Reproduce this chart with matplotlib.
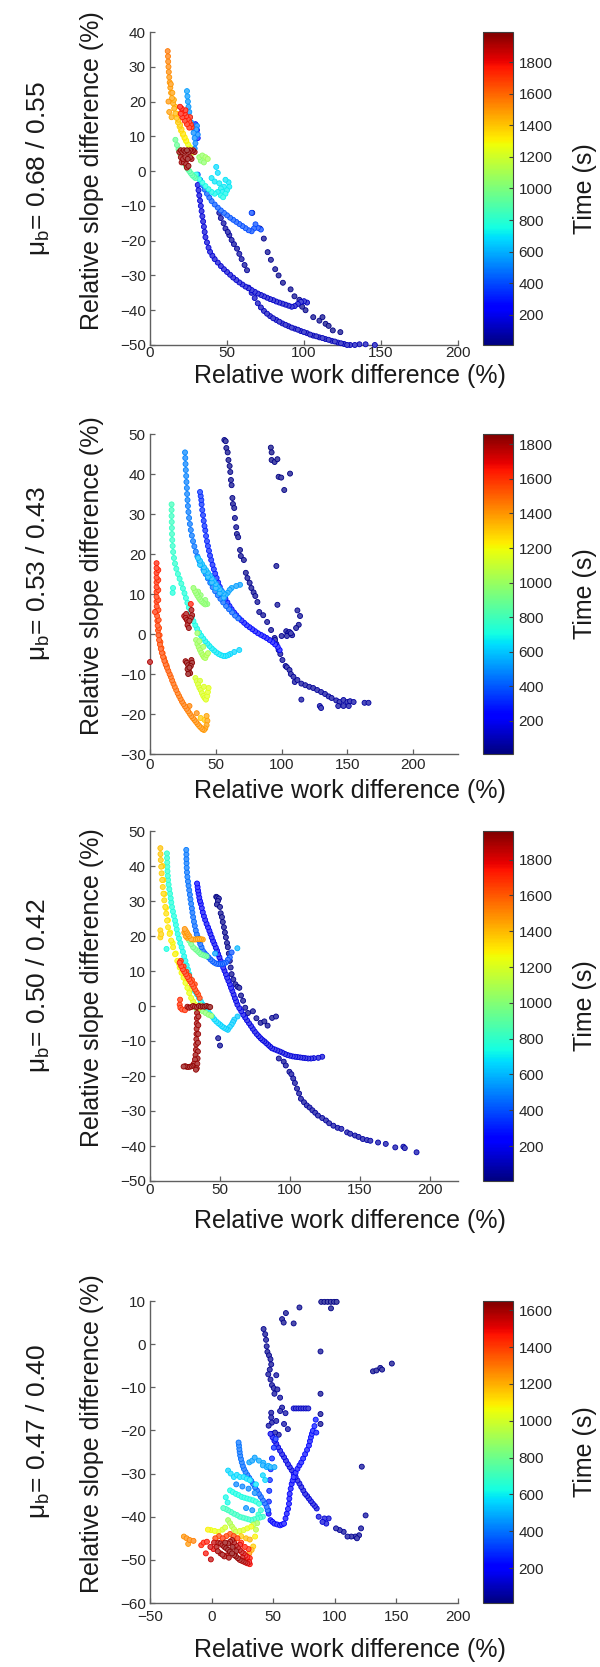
import matplotlib
matplotlib.use('Agg')
import matplotlib.pyplot as plt
import numpy as np
from matplotlib import colors as mcolors
from matplotlib.cm import ScalarMappable

plt.rcParams['font.family'] = ['Liberation Sans', 'DejaVu Sans']
plt.rcParams['mathtext.fontset'] = 'custom'
plt.rcParams['mathtext.rm'] = 'Liberation Sans'
plt.rcParams['mathtext.it'] = 'Liberation Sans:italic'

# ---------------- labels ----------------
MU_LABELS = ['μ$_\\mathrm{b}$= 0.68 / 0.55', 'μ$_\\mathrm{b}$= 0.53 / 0.43',
             'μ$_\\mathrm{b}$= 0.50 / 0.42', 'μ$_\\mathrm{b}$= 0.47 / 0.40']
XLABEL = 'Relative work difference (%)'
YLABEL = 'Relative slope difference (%)'
CLABEL = 'Time (s)'

# ---------------- panel 1 data ----------------
P1_X = [
    66.4, 71.4, 73.9, 76.4, 78.5, 81.3, 83.5, 86.3, 91.3, 93.8, 98.8, 101, 106, 110, 114, 118.7, 123.6, 112, 116, 97,
    45, 46, 47.8, 49, 50.5, 51.5, 53, 54.5, 56.5, 58, 59.5, 61.4, 63,
    64, 66, 68, 70, 72, 74, 76, 78, 80, 82, 84, 86, 88, 90, 92, 94, 96, 98, 100, 102, 104, 106, 108, 110, 112, 114,
    116, 118, 120, 122, 124, 126, 128, 130, 133, 136, 140, 146,
    31, 31.5, 32, 32.5, 33, 33.5, 34, 34.5, 35, 35.5, 36, 37, 38, 39, 40.5, 42, 44, 46, 48, 50, 52, 54, 56, 58, 60,
    62, 64, 66, 68, 70, 72, 74, 76, 78, 80, 82, 84, 86, 88, 90, 92, 94, 96, 98, 100, 102,
    31, 32.5, 34, 35.5, 37, 38.5, 40, 42, 44, 46, 48, 50, 52, 54, 56, 58, 60, 62, 64, 66, 67.5, 68.5, 70, 72, 66,
    24, 24.3, 24.6, 25, 25.5, 26, 26.7, 27.5, 28.3, 29, 29.5, 30, 30.5, 31, 29, 29.5, 30.5, 31,
    40, 42, 43, 44, 45, 46, 47, 48, 49, 50, 51, 51.5, 49, 44, 46, 47.5, 30, 32, 34, 36, 38, 40, 42,
    16.5, 17.5, 18.5, 19.5, 20.5, 21.5, 22.5, 23.5, 24.5, 25.5, 26.5, 27.5, 28.5, 29.5, 32, 34, 36, 37.5, 35, 33,
    11.5, 11.7, 11.8, 12, 12.2, 12.5, 12.8, 13.2, 13.7, 14.3, 15, 15.7, 16.5, 17.3, 18.2, 19.2, 20.2, 21.3, 22.4,
    23.5, 24.7, 25.9, 27, 28, 12, 12.5, 14,
    13.5, 14.5, 15.5, 16.5, 17.5, 18.5, 19.5, 20.5, 21.5, 22.5, 23.5,
    19.5, 20.5, 21.5, 22.5, 23.5, 24.5, 25.5, 26.5, 27, 21, 22.5, 24, 25.5, 23, 26, 20,
    19, 20, 21, 22, 23, 24, 25, 26, 27, 28, 29, 20, 21.5, 23, 24.5, 26, 22, 23.5, 25, 24, 27, 20.5,
]
P1_Y = [
    -12, -16.5, -19.4, -23.3, -25.5, -28.2, -30, -32.1, -34, -36, -39, -40, -42, -43, -43.9, -45.8, -46.3, -42, -44.5, -37,
    -12, -13.5, -15, -16.5, -17.5, -18.4, -19.8, -21, -22.3, -23.8, -25.3, -27, -28.5,
    -33.5, -35, -36.5, -38, -39.2, -40.2, -41, -41.7, -42.3, -42.8, -43.3, -43.8, -44.2, -44.6, -45, -45.3, -45.6, -46,
    -46.3, -46.6, -47, -47.3, -47.5, -47.8, -48, -48.3, -48.5, -48.8, -49, -49.3, -49.5, -49.7, -50, -50, -50, -49.8,
    -49.8, -50,
    -4, -5.5, -7, -8.5, -10, -11.5, -13, -14.5, -16, -17.5, -19, -20.5, -22, -23.2, -24.3, -25.3, -26.3, -27.3, -28.2,
    -29, -29.8, -30.6, -31.3, -32, -32.6, -33.2, -33.7, -34.2, -34.7, -35.2, -35.6, -36, -36.4, -36.8, -37.1, -37.5,
    -37.8, -38.1, -38.4, -38.7, -39, -38.8, -38.2, -37.6, -37.4, -37.8,
    -1, -2.5, -4, -5.3, -6.5, -7.6, -8.6, -9.6, -10.5, -11.3, -12, -12.7, -13.4, -14, -14.6, -15.2, -15.8, -16.4, -17,
    -17.3, -16.5, -15.3, -16.3, -16.8, -12,
    23, 21.5, 20, 18.5, 17, 15.5, 14, 12.5, 11, 9.5, 8, 12, 13, 10.5, 6.5, 13.5, 11.8, 9.5,
    -2, -3, 1.2, -0.5, -3.5, -5, -6, -4.5, -6.5, -5.5, -3.2, -4.5, -2.5, -6, -7, -7.5, -1, -2.3, -3.3, -4.3, -5.2, -6, -6.5,
    9, 7.5, 6.3, 5, 4, 3, 2.2, 1.4, 0.6, 0, -0.6, -1.2, -1.6, -2, 4, 4.5, 4, 3.5, 2.5, 3,
    34.5, 33, 31.5, 30, 28.5, 27, 25.5, 24, 22.5, 21, 19.5, 18, 16.6, 15.3, 14, 12.8, 11.6, 10.5, 9.5, 8.6, 7.7, 6.9,
    6.1, 5.3, 20, 17, 15.5,
    25, 22.5, 20.5, 18.5, 16.5, 14.8, 13.3, 12, 10.8, 9.8, 8.8,
    18.5, 18, 17.3, 16.6, 15.8, 15, 14.2, 13.4, 12.6, 15.5, 14.5, 13.5, 12.5, 17.5, 15.5, 16.5,
    5.5, 6, 5.5, 6, 5.6, 6, 5.5, 6, 5.7, 6, 5.5, 4, 3.5, 4, 3.5, 4, 2.5, 2, 1.5, 1, 3.5, 2.5,
]
P1_T = [
    40, 38, 37, 36, 35, 34, 33, 32, 31, 30, 29, 28, 27, 26, 25, 24, 23, 26, 25, 30,
    62, 61, 61, 60, 60, 59, 59, 58, 58, 57, 57, 56, 56,
    120, 119, 119, 118, 118, 117, 117, 116, 116, 115, 115, 114, 114, 113, 113, 112, 112, 111, 111, 110, 110, 109,
    109, 108, 108, 107, 107, 106, 106, 105, 105, 104, 104, 103, 103, 102, 102, 101,
    170, 169, 168, 167, 166, 165, 164, 163, 162, 161, 160, 159, 158, 157, 156, 155, 154, 153, 152, 151, 150, 149,
    148, 147, 146, 145, 144, 143, 142, 141, 140, 139, 138, 137, 136, 135, 134, 133, 132, 131, 130, 129, 128, 127,
    126, 125,
    440, 438, 436, 434, 432, 430, 428, 426, 424, 422, 420, 418, 416, 414, 412, 410, 408, 406, 404, 402, 400, 398,
    396, 394, 390,
    560, 556, 552, 548, 544, 540, 536, 532, 528, 524, 520, 516, 512, 508, 504, 300, 300, 300,
    700, 700, 680, 690, 710, 720, 720, 710, 730, 720, 700, 710, 700, 720, 730, 740, 760, 755, 750, 745, 740, 735, 730,
    950, 945, 940, 935, 930, 925, 920, 915, 910, 905, 900, 895, 890, 885, 1050, 1060, 1070, 1080, 1040, 1030,
    1560, 1550, 1540, 1530, 1520, 1510, 1500, 1490, 1480, 1470, 1460, 1450, 1430, 1410, 1390, 1370, 1350, 1330, 1310,
    1290, 1270, 1250, 1230, 1210, 1500, 1480, 1460,
    1500, 1480, 1460, 1440, 1420, 1400, 1380, 1360, 1340, 1320, 1300,
    1780, 1775, 1770, 1765, 1760, 1755, 1750, 1745, 1740, 1760, 1755, 1750, 1745, 1770, 1750, 1770,
    1950, 1955, 1960, 1965, 1970, 1975, 1970, 1965, 1960, 1955, 1950, 1945, 1950, 1955, 1960, 1950, 1945, 1950, 1955,
    1950, 1945, 1940,
]

# ---------------- panel 2 data ----------------
P2_X = [
    56.5, 57.5, 58, 59, 59.6, 60.5, 61, 61.5, 62, 62.6, 63, 64, 64.5, 65.5, 66, 67, 68.4, 69, 71.3, 72.8, 74, 75.7,
    77, 78.7, 80, 81.6, 83, 86, 89,
    92, 94.7, 96, 97.7, 99, 100.6, 103, 104, 106, 107, 109, 110, 112, 115, 118, 121, 124, 127, 130, 133, 135.7, 138,
    141.5, 144, 147, 150, 152, 154.7, 163, 166, 115, 129, 130, 143, 147, 151,
    91.8, 92.4, 92.4, 94.7, 96.8, 97.7, 99.7, 106.4, 102, 96, 96.8, 112, 114, 113, 111, 103.5, 105, 106, 107, 104,
    100, 95, 108,
    38, 38.5, 39, 39.2, 39.7, 40.3, 40.8, 41.4, 42, 42.6, 43.3, 44, 44.8, 45.6, 46.5, 47.5, 48.5, 49.5, 50.6, 51.8,
    53, 54.4, 55.8, 57.3, 58.8, 60.4, 62, 63.8, 65.6, 67.5, 69.5, 71.5, 73.5, 75.6, 77.7, 79.8, 82, 84.2, 86.4, 88.6,
    90.8, 93, 95, 97, 98.5,
    26.6, 26.8, 27, 27.2, 27.5, 27.7, 28, 28.2, 28.5, 28.8, 29.2, 29.7, 30.3, 31, 31.8, 32.7, 33.7, 34.8, 36, 37.5,
    39, 40.6, 42.3, 44, 45.8, 47.6, 49.5, 51.5, 53.5, 55.6, 57.8, 60, 62.3, 64.6, 67,
    36.5, 38, 39.5, 41, 42.5, 44, 45.5, 47, 48.5, 50, 51.5, 53, 54.5, 56, 57.5, 59, 60.5, 62, 65.5, 68.4,
    38, 41, 44, 47, 50, 53, 56,
    16.4, 16.4, 16.4, 16.5, 16.6, 16.7, 16.9, 17.2, 17.6, 18.2, 19, 20, 21.2, 22.5, 23.8, 25, 26.2, 27.3, 28.4, 29.5,
    30.6, 31.8, 33, 34.4, 35.8, 37.3, 38.8, 40.4, 42, 43.6, 45.2, 46.9, 48.6, 50.4, 52.2, 54, 55.8, 57.6, 59.4, 61,
    64, 67.8, 17.2, 17.5,
    33, 34, 35, 36, 37, 38, 39, 40, 41, 42, 43.5, 42, 38.5, 36.5,
    35, 36, 37, 38, 39, 40, 41, 42, 43, 44, 37.5, 40.5, 36,
    34.5, 35.5, 36.5, 37.5, 38.5, 39.5, 40.5, 41.5, 42.5, 43.5, 44, 44.5, 38, 41,
    5, 5, 5, 5, 5, 5, 5, 5, 5, 5.1, 5.2, 5.4, 5.6, 5.8, 6.1, 6.4, 6.9, 7.5, 8.2, 9, 9.9, 10.9, 11.9, 12.9, 13.9, 14.9,
    6.3, 6.3, 6.3, 6.3, 6.4, 6.6, 6.9, 7.3, 7.9, 8.7, 9.6, 10.6, 11.6, 12.6, 3.8,
    15.8, 16.8, 17.8, 18.8, 19.9, 21, 22.1, 23.2, 24.3, 25.4, 26.6, 27.8, 29, 30.2, 31.4, 32.6, 33.8, 35, 36.2, 37.4,
    38.6, 39.8, 41, 42, 43, 43.6, 43, 38.5, 41.5, 35.5, 30,
    26, 27, 28, 29, 30, 31, 32, 28.5, 29.5, 27.5, 31.5, 27, 28, 29, 30, 31, 32, 29.5, 30.5, 29, 28.5, 31.5, 0, 31,
]
P2_Y = [
    48.5, 48.2, 46.5, 45.4, 43.5, 42, 40.5, 38.5, 37.2, 34, 32.5, 31.5, 29, 26.7, 25, 24.2, 21, 19.5, 18.5, 15.3, 14,
    12.8, 11.5, 10.4, 9.5, 8, 5.5, 4.7, 3,
    1, -1, -2.5, -4, -5, -6.5, -8, -8.3, -9, -10, -10.7, -12, -11.5, -12.4, -12.8, -13.2, -13.5, -14, -14.5, -15,
    -15.6, -16, -16.6, -17, -16.5, -17, -16.8, -17, -17.2, -17.2, -16.4, -18, -18.5, -18, -18, -18,
    46.6, 45.4, 43.5, 43, 43.7, 39.3, 39.1, 40.1, 36, 17, 7.3, 5.9, 4.5, 2.3, 1.5, 0.7, 0.3, 0.5, 0.2, -0.5, -0.5,
    -1.5, -0.3,
    35.5, 34.5, 33.5, 32.4, 31, 29.7, 28.3, 27, 25.9, 24.5, 23.2, 22, 20.8, 19.6, 18.5, 17.3, 16.2, 15.1, 14, 12.9,
    11.8, 10.8, 9.8, 8.8, 7.9, 7, 6.2, 5.4, 4.7, 4, 3.4, 2.8, 2.2, 1.7, 1.2, 0.7, 0.2, -0.2, -0.6, -1, -1.5, -2,
    -2.6, -3.2, -4,
    45.4, 44, 42.5, 41, 39.5, 38, 36.5, 35, 33.5, 32, 30.5, 29, 27.5, 26, 24.6, 23.2, 21.9, 20.6, 19.4, 18.3, 17.2,
    16.1, 15, 13.9, 12.8, 11.7, 10.7, 9.7, 8.8, 7.9, 7, 6.2, 5.4, 4.6, 3.9,
    19, 18.3, 17.5, 16.7, 16, 15.3, 14.6, 13.9, 13.2, 12.5, 11.8, 11.2, 10.6, 10.1, 9.8, 10.3, 11, 11.5, 12, 12.3,
    17.3, 15.7, 14.3, 12.9, 11.5, 10.2, 9.1,
    32.4, 31, 29.5, 28, 26.5, 25, 23.5, 22, 20.5, 19, 17.6, 16.3, 15, 13.8, 12.6, 11.4, 10.2, 9, 7.8, 6.6, 5.4, 4.3,
    3.2, 2.2, 1.3, 0.4, -0.4, -1.1, -1.8, -2.4, -3, -3.6, -4.1, -4.6, -5, -5.3, -5.5, -5.5, -5.3, -5, -4.5, -4,
    10.3, 11.5,
    11.5, 10.8, 10.2, 9.6, 9.1, 8.6, 8.2, 7.9, 7.6, 7.4, 7.5, 8.5, 9.7, 10.6,
    -1.5, -2.5, -3.3, -4, -4.7, -5.3, -5.8, -6, -5.3, -4.8, -1.8, -3.2, 0.2,
    -11, -11.8, -12.6, -13.4, -14, -14.8, -15.5, -16, -16.4, -15.5, -14.5, -13.5, -11.7, -13.2,
    17.7, 16.5, 15.3, 14.1, 12.9, 11.7, 10.5, 9.3, 8.1, 6.9, 5.7, 4.5, 3.3, 2.1, 0.9, -0.3, -1.5, -2.6, -3.7, -4.7,
    -5.7, -6.7, -7.6, -8.4, -9.2, -10,
    16, 13.5, 11, 8.5, 6, 3.5, 1.5, -0.3, -2, -3.5, -4.8, -6, -7, -7.9, 5.5,
    -10.7, -11.6, -12.4, -13.2, -14, -14.8, -15.5, -16.2, -16.9, -17.5, -18.1, -18.7, -19.3, -19.9, -20.5, -21,
    -21.5, -22, -22.5, -23, -23.4, -23.8, -24, -23.6, -22.8, -21.7, -20.5, -21, -21.5, -19.8, -18,
    4.5, 4, 3.5, 3, 3.3, 4, 4.7, 2.2, 1.5, 5, 6, -6.8, -7.2, -7.8, -8.4, -8, -7.2, -9.3, -9.8, -10, -8.8, -6.5, -7, 7.5,
]
P2_T = [
    20, 20, 21, 21, 22, 22, 23, 23, 24, 24, 25, 25, 26, 26, 27, 27, 28, 28, 29, 29, 30, 30, 31, 31, 32, 32, 33, 33, 34,
    35, 36, 37, 38, 39, 40, 41, 42, 43, 44, 45, 46, 47, 48, 49, 50, 51, 52, 53, 54, 55, 56, 57, 58, 59, 60, 61, 62,
    63, 64, 50, 55, 55, 58, 59, 60,
    15, 15, 16, 16, 17, 17, 18, 18, 19, 25, 30, 30, 31, 32, 33, 40, 41, 42, 43, 42, 40, 38, 41,
    320, 318, 316, 314, 312, 310, 308, 306, 304, 302, 300, 298, 296, 294, 292, 290, 288, 286, 284, 282, 280, 278,
    276, 274, 272, 270, 268, 266, 264, 262, 260, 258, 256, 254, 252, 250, 248, 246, 244, 242, 240, 238, 236, 234, 232,
    480, 478, 476, 474, 472, 470, 468, 466, 464, 462, 460, 458, 456, 454, 452, 450, 448, 446, 444, 442, 440, 438,
    436, 434, 432, 430, 428, 426, 424, 422, 420, 418, 416, 414, 412,
    580, 577, 574, 571, 568, 565, 562, 559, 556, 553, 550, 547, 544, 541, 538, 535, 532, 529, 526, 523,
    575, 569, 563, 557, 551, 545, 539,
    790, 785, 780, 776, 772, 768, 764, 760, 756, 752, 748, 744, 740, 736, 732, 728, 724, 720, 716, 712, 708, 704,
    700, 696, 692, 688, 684, 680, 676, 672, 668, 664, 660, 656, 652, 648, 644, 640, 636, 632, 628, 624, 720, 720,
    980, 978, 976, 974, 972, 970, 968, 966, 964, 962, 960, 962, 970, 975,
    1000, 1005, 1010, 1015, 1020, 1025, 1030, 1035, 1040, 1045, 1010, 1020, 995,
    1130, 1133, 1136, 1139, 1142, 1145, 1148, 1151, 1154, 1157, 1160, 1163, 1135, 1145,
    1640, 1635, 1630, 1625, 1620, 1615, 1610, 1605, 1600, 1595, 1590, 1585, 1580, 1575, 1570, 1565, 1560, 1555,
    1550, 1545, 1540, 1535, 1530, 1525, 1520, 1515,
    1630, 1620, 1610, 1600, 1590, 1580, 1570, 1560, 1550, 1540, 1530, 1520, 1510, 1500, 1600,
    1505, 1500, 1495, 1490, 1485, 1480, 1475, 1470, 1465, 1460, 1455, 1450, 1445, 1440, 1435, 1430, 1425, 1420,
    1415, 1410, 1405, 1400, 1395, 1390, 1385, 1380, 1375, 1300, 1300, 1420, 1440,
    1800, 1805, 1810, 1815, 1820, 1815, 1810, 1815, 1820, 1800, 1790, 1830, 1835, 1840, 1845, 1840, 1835, 1840,
    1845, 1845, 1840, 1830, 1780, 1650,
]

# ---------------- panel 3 data ----------------
P3_X = [
    47.3, 48, 49.2, 48.5, 47.8, 50, 50.5, 51.4, 52, 52.8, 53.5, 54.2, 55, 55.6, 56.3, 57, 57.6, 58.3, 59.5, 61, 62.5,
    63.8, 65, 66.5, 68, 70, 73.5, 76, 79, 81.7, 84, 87.2, 90,
    92, 95.5, 97, 99.6, 101, 102.3, 103.5, 105, 106.5, 107.8, 110, 112, 114, 116, 118, 120, 123, 125.7, 128, 131,
    134, 136.7, 140.8, 143, 146.4, 149, 152, 155, 157.4, 162.9, 168.4, 175.2, 181, 182, 190.4, 48.7, 50,
    33.6, 34, 34.3, 34.7, 35.2, 35.7, 36.3, 37, 37.7, 38.5, 39.4, 40.4, 41.4, 42.4, 43.2, 44.1, 45, 46, 47, 47.9,
    48.7, 49.6, 50.5, 51.4, 52.3, 53.2, 54.2, 55.1, 56, 57, 57.9, 58.8, 59.7, 60.6, 61.5, 62.4, 63.8, 65.2, 66.6, 68,
    69.3, 70.7, 72.1, 73.4, 74.8, 76.2, 77.6, 79, 80.3, 81.7, 83, 84.4, 85.8, 87.2, 89, 90.9, 92.7, 94.5, 96.4, 98.2,
    100, 101.9, 103.7, 105.5, 107.4, 109.2, 111, 113, 115, 117, 120.2, 123,
    25.9, 26, 26, 26.1, 26.2, 26.4, 26.7, 27.1, 27.5, 28, 28.5, 28.9, 29.4, 29.9, 30.3, 30.8, 31.4, 32, 32.7, 33.4,
    34.2, 35, 35.9, 36.8, 37.7, 39, 40.4, 41.8, 43.2, 44.6, 45.9, 47.3, 48.7, 50, 51.4, 52.8, 54.2, 55.6, 57, 58.3,
    62.4, 46.5,
    12.1, 12.2, 12.3, 12.4, 12.5, 12.7, 12.9, 13.3, 13.8, 14.3, 14.8, 15.2, 15.7, 16.4, 17.1, 17.9, 18.5, 19.1, 19.8,
    20.7, 21.6, 22.6, 23.5, 24.4, 25.3, 26.2, 27.1, 28, 28.9, 29.9, 30.8, 32.2, 33.6, 35, 36.3, 37.7, 39, 40.4, 41.8,
    43.2, 44.6, 45.9, 47.3, 48.7, 50, 51.4, 52.8, 54.2, 55.6, 57, 58.3, 59.3, 60.2, 62.5, 11.8,
    28, 29.4, 30.8, 32.2, 33.6, 35, 36.3, 37.7, 39, 40.4, 33.6, 35.6, 37.7, 39.7, 41.8, 43.8, 31, 36,
    24.8, 25.5, 26.3, 27, 28, 29.4, 30.8, 32.2, 33.6, 35, 36.3, 37.7, 25.5, 26.5, 24.5,
    7.4, 7.5, 7.7, 8, 8.3, 8.7, 9.1, 9.6, 10.2, 10.9, 11.6, 12.2, 12.9, 14, 15.1, 16.5, 17.9, 19.5, 21.2, 22.5, 23.9,
    25.3, 26.7, 28, 29.4, 30.8, 32.2, 33.6, 35,
    8.9, 9.5, 10.3, 11.4, 12.8, 14.4, 16.2, 18.4, 20.8, 23.2, 25.7, 28.2, 7.4, 7.4, 8,
    21.2, 22.3, 23.4, 24.5, 25.6, 26.7, 27.8, 28.9, 30, 31.1, 32.2, 33.3, 34.4, 35.5, 22, 24, 26, 28, 30, 32,
    26.7, 28, 29.4, 30.8, 32.2, 33.6, 35, 36.3, 37.7, 39, 40.4, 41.8, 43,
    33.6, 33.5, 33.4, 33.3, 33.2, 33.1, 33, 32.8, 32.5, 32.1, 31.3, 30.3, 29, 27.7, 26.4, 25.2, 24,
    34.6, 34.5, 34.4, 34.3, 34.2, 34, 33.8, 33.4, 32.8,
    21.2, 21.7, 21.5, 23, 25,
]
P3_Y = [
    31.2, 31, 30.7, 30, 29, 28.3, 26.5, 25.4, 24, 22.5, 21, 19.6, 18, 16.8, 15, 12.9, 11, 9.1, 7.6, 6.2, 5.5, 5.2, 3,
    1.5, -0.5, -2, -1.5, -3.5, -4.8, -4.4, -5.6, -3.4, -3,
    -15, -15.9, -17, -18.8, -19.5, -20.7, -22, -23.6, -25, -26.5, -27.5, -28.4, -29, -29.8, -30.5, -31.3, -32, -32.7,
    -33.5, -34.2, -34.8, -35.1, -36.1, -36.5, -37, -37.4, -38, -38.3, -38.5, -39, -39.4, -40.4, -40.2, -40.6, -41.8,
    -9.2, -11.3,
    35, 34, 33, 32.1, 31, 30, 29.2, 28, 26.8, 25.7, 24.6, 23.5, 22.5, 21.5, 20.6, 19.6, 18.6, 17.7, 16.7, 15.8, 14.8,
    13.9, 12.9, 12, 11, 10.1, 9.1, 8.1, 7.2, 6.2, 5.2, 4.3, 3.3, 2.3, 1.4, 0.4, -0.6, -1.5, -2.5, -3.3, -4.1, -4.9,
    -5.7, -6.5, -7.3, -8, -8.6, -9.2, -9.7, -10.1, -10.6, -11.1, -11.6, -12.1, -12.4, -12.7, -13, -13.3, -13.7, -14,
    -14.2, -14.4, -14.5, -14.6, -14.7, -14.8, -14.9, -15, -15, -14.9, -14.8, -14.5,
    44.6, 43.3, 42, 40.8, 39.5, 38.2, 36.9, 35.6, 34.4, 33.1, 31.8, 30.5, 29.2, 27.9, 26.7, 25.4, 24.1, 22.9, 21.6,
    20.5, 19.6, 18.7, 17.7, 16.8, 15.8, 15.1, 14.5, 13.9, 13.3, 12.8, 12.4, 12.1, 12, 12, 12, 12.2, 12.4, 13.2, 13.9,
    15.3, 16.5, 15,
    43.6, 42.3, 41, 39.8, 38.5, 37.2, 36, 34.7, 33.4, 32.1, 30.8, 29.6, 28.3, 27, 25.7, 24.4, 23.2, 21.9, 20.6, 19.3,
    18, 16.8, 15.5, 14.2, 12.9, 11.6, 10.4, 9.1, 7.8, 6.5, 5.2, 4.2, 3.3, 2.3, 1.3, 0.4, -0.5, -1.2, -1.8, -2.5, -3.1,
    -3.8, -4.4, -4.9, -5.3, -5.8, -6.2, -6.5, -6.8, -6, -5.3, -4.6, -3.9, -3, 16.3,
    18.7, 17.7, 16.8, 16.3, 15.8, 15.3, 14.8, 14.6, 14.4, 14.2, -1, -1.2, -1.5, -2, -2.5, -2.8, -0.2, 0.3,
    22, 21.5, 21, 20.5, 20, 19.1, 19, 19, 19.1, 19.1, 19.1, 19, 20, 19.5, 21,
    45.1, 43.4, 41.7, 39.8, 37.9, 36, 34, 32.1, 30.2, 28.3, 26.4, 24.4, 22.5, 20.6, 18.7, 16.8, 14.8, 12.9, 11, 9.5,
    8.1, 6.6, 5.2, 3.7, 2.3, 1.3, 0.4, 0, -0.5,
    40, 36, 32, 28, 24.5, 21, 18, 15, 12, 9.5, 7, 4.5, 21.6, 19.6, 20.5,
    12.4, 11.4, 10.5, 9.8, 9.1, 8.3, 7.6, 6.9, 6.2, 5.5, 4.7, 4, 3.3, 2.3, 12.9, 11.3, 9.8, 8.6, 7.4, 6.2,
    -0.2, -0.5, -0.3, 0, -0.2, -0.3, 0, -0.2, -0.1, -0.2, 0, -0.2, -0.3,
    -2, -3.5, -5, -6.5, -8, -9.5, -11, -12.5, -14, -15.3, -16.5, -17.1, -17.3, -17.4, -17.4, -17.2, -17.3,
    -3, -5.5, -8, -10.5, -13, -15, -16.5, -17.8, -18.2,
    0.4, -0.5, 1.8, -1, -1.2,
]
P3_T = [
    20, 20, 21, 21, 22, 22, 23, 23, 24, 24, 25, 25, 26, 26, 27, 27, 28, 28, 29, 29, 30, 30, 31, 31, 32, 32, 33, 33,
    34, 34, 35, 35, 36,
    40, 41, 42, 43, 44, 45, 46, 47, 48, 49, 50, 51, 52, 53, 54, 55, 56, 57, 58, 59, 60, 61, 62, 63, 64, 65, 66, 67,
    68, 69, 70, 71, 72, 73, 74, 30, 30,
    220, 219, 218, 217, 216, 215, 214, 213, 212, 211, 210, 209, 208, 207, 206, 205, 204, 203, 202, 201, 200, 199,
    198, 197, 196, 195, 194, 193, 192, 191, 190, 189, 188, 187, 186, 185, 184, 183, 182, 181, 180, 179, 178, 177,
    176, 175, 174, 173, 172, 171, 170, 169, 168, 167, 166, 165, 164, 163, 162, 161, 160, 159, 158, 157, 156, 155,
    154, 153, 152, 151, 150, 149,
    480, 478, 476, 474, 472, 470, 468, 466, 464, 462, 460, 458, 456, 454, 452, 450, 448, 446, 444, 442, 440, 438,
    436, 434, 432, 430, 428, 426, 424, 422, 420, 418, 416, 414, 412, 410, 408, 406, 404, 402, 600, 560,
    790, 787, 784, 781, 778, 775, 772, 769, 766, 763, 760, 757, 754, 751, 748, 745, 742, 739, 736, 733, 730, 727,
    724, 721, 718, 715, 712, 709, 706, 703, 700, 697, 694, 691, 688, 685, 682, 679, 676, 673, 670, 667, 664, 661,
    658, 655, 652, 649, 646, 643, 640, 637, 634, 631, 740,
    960, 955, 950, 945, 940, 935, 930, 925, 920, 915, 1000, 1005, 1010, 1015, 1020, 1025, 995, 990,
    1480, 1478, 1476, 1474, 1472, 1470, 1468, 1466, 1464, 1462, 1460, 1458, 1470, 1465, 1475,
    1380, 1374, 1368, 1362, 1356, 1350, 1344, 1338, 1332, 1326, 1320, 1314, 1308, 1302, 1296, 1290, 1284, 1278,
    1272, 1266, 1260, 1254, 1248, 1242, 1236, 1230, 1224, 1218, 1212,
    1350, 1335, 1320, 1305, 1290, 1275, 1260, 1245, 1230, 1220, 1215, 1210, 1350, 1350, 1350,
    1720, 1715, 1710, 1705, 1700, 1695, 1690, 1685, 1680, 1675, 1670, 1665, 1660, 1655, 1710, 1700, 1690, 1680,
    1670, 1660,
    1900, 1905, 1910, 1915, 1920, 1925, 1930, 1935, 1940, 1945, 1950, 1950, 1950,
    1900, 1902, 1904, 1906, 1908, 1910, 1912, 1914, 1916, 1918, 1920, 1922, 1924, 1926, 1928, 1930, 1932,
    1905, 1907, 1910, 1912, 1915, 1917, 1920, 1922, 1925,
    1700, 1700, 1700, 1700, 1700,
]

# ---------------- panel 4 data ----------------
P4_X = [
    89, 91.6, 94.2, 96.8, 99.4, 101.5, 96.9, 71.3, 57.2, 60.3, 58.5, 66.6, 88.4, 88.4, 88.4, 88.4, 131, 133.8, 136.9,
    138.4, 146.3, 121.9, 125,
    42.2, 43.5, 44.2, 44.7, 45.3, 46.6, 47.8, 48.4, 47.2, 46, 47.8, 49, 50.5, 52.5, 51, 53.4, 55.6, 57.2, 48.4, 48.4,
    48.9, 46.3, 49.4, 52.5, 55.6, 58.8, 61.9, 60, 54.5, 51.5,
    66.6, 68.5, 70.5, 72.5, 74.5, 76.5, 78.5,
    47.8, 49.5, 51, 52.5, 54, 55.6, 57.2, 58.8, 60.3, 61.9, 63.4, 65, 66.6, 68.2, 69.7, 71.3, 72.8, 74.4, 75.9, 77.5,
    79, 80.6, 82.2, 83.8, 85.3, 86.9, 90, 91.6, 93.1, 95, 101, 104, 107.2, 110.3, 113.4, 116.6, 119.7, 121.3, 118,
    82.2, 81.4, 80.6, 79.8, 79, 77.5, 75.9, 74.3, 72.8, 71.3, 69.7, 68.2, 66.6, 65.8, 65, 64.2, 63.4, 63.1, 62.8, 62,
    61, 60, 58.8, 57.2, 55.6, 53.3, 51, 49.4, 47.8, 46.3, 83.5, 84.5, 85,
    21.9, 22.2, 22.5, 22.8, 23.2, 23.8, 24.5, 25.3, 26.2, 27.5, 29, 30.6, 32.2, 33.7, 35.3, 36.8, 38.4, 40, 41.6,
    43.1, 44.7, 45.5,
    52, 50.5, 49, 48, 47.3, 46.8, 46.5, 46,
    38.4, 41.6, 44.7, 47.8, 51, 42, 46, 30.6, 33, 35,
    13.4, 15.5, 18.1, 20.5, 23, 26, 28.5, 31, 41.6, 43.5, 36,
    15, 17.3, 19.7, 22, 24.4, 26.7, 29, 31.4, 33.8, 36, 38.5, 11.5, 13,
    9.5, 11.5, 13.4, 15.8, 18.1, 20.5, 22.8, 25.2, 27.5, 29.8, 32.2, 34.5, 36.9, 39.3, 41.6, 40, 38,
    20, 25, 30, 35, 28, 33,
    13.4, 15, 16.6, 18.2, 19.7, 22.8, 26, 29, 32.2, 35.3, 33.8, 32.5, 30.6, 28, 26, 8.8, -0.6, 2.5, 5.6, -3, -22.5,
    -20.3, -17.8, -14.7, -19, 11, 24, 28, 31, 20, 36, 37, 34,
    -8.4, -6.5, -3.8, -4.7, -0.6, 1.5, 4.1, 5.5, 7.2, 8.8, 10.3, 11.8, 13.4, 15, 16.6, 18.2, 19.7, 21.3, 22.8, 24.4,
    26, 27.5, 29, 30.5, 7.2, 8.8, 10.3, 12, 13.4, 15, 16.6, 18.2, 19.7, 21.3, 22.8, 24.4, 26, 27.5, 29, 31, 3, 6, 9,
    12, 15, 18, 21, 24, 27, 30, 5, 2, 11, 17, 23, 20, 14, 25, 31, -1,
]
P4_Y = [
    9.8, 9.8, 9.8, 9.8, 9.8, 9.8, 8.3, 8.5, 5.8, 7.2, 5, 4.8, -1.7, -11.5, -16.2, -18.5, -6.3, -6.1, -5.5, -5.9,
    -4.5, -28.4, -39.7,
    3.5, 2.3, 1, -0.5, -1.8, -2.6, -3.5, -4.7, -5.9, -7, -8.2, -9.5, -10.2, -7.2, -11.5, -10.5, -12.4, -14.7, -15.9,
    -17, -18.2, -18.9, -20.8, -17.8, -15.5, -18.5, -19.7, -16, -21, -20.5,
    -14.9, -14.9, -14.9, -14.9, -14.9, -14.9, -14.9,
    -20.8, -21.6, -22.4, -23.1, -23.9, -24.7, -25.5, -26.2, -27, -27.8, -28.5, -29.2, -30, -30.8, -31.6, -32.3,
    -33.1, -33.9, -34.7, -35.2, -35.8, -36.4, -37, -37.5, -38.1, -40, -41.2, -40.4, -41.6, -40.4, -42.7, -43.1,
    -43.5, -44.6, -44.6, -44.6, -44.3, -42.7, -45,
    -20.1, -20.8, -21.6, -22.5, -23.5, -24.5, -25.5, -26.5, -27.4, -28.1, -28.9, -29.8, -30.8, -31.6, -32.4, -33.5,
    -34.7, -35.8, -37, -38.2, -39.3, -40.4, -41.6, -41.8, -42, -41.8, -41.6, -41.2, -40.8, -39.3, -19, -17.5, -20.5,
    -22.8, -23.5, -24.3, -25, -25.8, -26.6, -27.4, -28.2, -28.9, -29.6, -30.3, -31, -31.7, -32.4, -33.2, -33.9,
    -34.7, -35.4, -36.2, -36.9, -37.7, -38.5,
    -22, -24, -26.5, -29, -31.5, -34, -36.5, -38.5,
    -27, -28.1, -28.5, -28.5, -28.5, -27.5, -28.2, -27.4, -27, -26.3,
    -29.3, -30, -30.8, -30.3, -30.8, -30.8, -31.2, -31.5, -30.4, -31.5, -32.5,
    -33.9, -34.3, -34.7, -35, -35.4, -35.6, -35.8, -36, -36.2, -36.5, -37, -35.5, -36.7,
    -38, -38.2, -38.5, -38.9, -39.3, -39.6, -40, -40.2, -40.4, -40.6, -40.8, -40.6, -40.4, -40.2, -40, -38.5, -39.5,
    -32.5, -33, -33.5, -34.5, -38, -38.5,
    -40.8, -41.5, -42.3, -42.9, -43.5, -43.3, -43.1, -42.7, -42.3, -44.6, -46.9, -47.7, -48.5, -49, -49.6, -43,
    -43.1, -43.3, -43.5, -43, -44.6, -45, -45.4, -45.6, -46.3, -42.5, -44.5, -45, -45.3, -45, -43, -41.5, -41.8,
    -46.6, -46, -45.8, -48.5, -49.9, -47.5, -47, -46, -46.2, -46.6, -47, -47.3, -47.7, -48.1, -48.5, -48.9, -49.2,
    -49.6, -50, -50.2, -50.4, -50.6, -50.8, -50.5, -48.5, -48.8, -49.2, -49, -46.2, -45.8, -45.4, -46, -46.6, -47.2,
    -47.7, -48.2, -48.5, -49, -49.3, -49.6, -45, -44.5, -45, -44.5, -44, -44.5, -45, -46, -47, -47.5, -48, -46, -46,
    -47, -46.5, -48, -49.5, -49.5, -51, -47,
]
P4_T = [
    20, 20, 20, 20, 20, 20, 22, 24, 26, 25, 27, 25, 30, 32, 34, 35, 28, 28, 28, 28, 28, 40, 45,
    30, 31, 32, 33, 34, 35, 36, 37, 38, 39, 40, 41, 42, 43, 44, 45, 46, 47, 48, 49, 50, 51, 52, 53, 54, 55, 56, 57,
    58, 59,
    110, 110, 110, 110, 110, 110, 110,
    160, 159, 158, 157, 156, 155, 154, 153, 152, 151, 150, 149, 148, 147, 146, 145, 144, 143, 142, 141, 140, 139,
    138, 137, 136, 135, 134, 133, 132, 131, 50, 48, 46, 44, 42, 40, 38, 36, 40,
    230, 229, 228, 227, 226, 225, 224, 223, 222, 221, 220, 219, 218, 217, 216, 215, 214, 213, 212, 211, 210, 209,
    208, 207, 206, 205, 204, 203, 202, 201, 235, 240, 232,
    400, 398, 396, 394, 392, 390, 388, 386, 384, 382, 380, 378, 376, 374, 372, 370, 368, 366, 364, 362, 360, 358,
    260, 262, 264, 266, 268, 270, 272, 274,
    480, 482, 484, 486, 488, 481, 485, 470, 470, 470,
    560, 562, 564, 566, 568, 570, 572, 574, 556, 558, 576,
    620, 622, 624, 626, 628, 630, 632, 634, 636, 638, 640, 618, 616,
    700, 698, 696, 694, 692, 690, 688, 686, 684, 682, 680, 678, 676, 674, 672, 670, 668,
    420, 425, 430, 435, 440, 445,
    900, 920, 940, 960, 980, 1000, 1020, 1040, 1060, 1080, 1150, 1200, 1250, 1300, 1320, 1000, 1050, 1060, 1040,
    1080, 1250, 1260, 1270, 1280, 1240, 1000, 1150, 1180, 1200, 1100, 950, 900, 920,
    1450, 1460, 1470, 1480, 1560, 1500, 1580, 1590, 1600, 1610, 1620, 1625, 1630, 1630, 1635, 1630, 1625, 1620,
    1600, 1590, 1580, 1560, 1540, 1500, 1600, 1610, 1600, 1590, 1620, 1610, 1600, 1590, 1580, 1570, 1560, 1550,
    1530, 1510, 1490, 1470, 1400, 1380, 1420, 1400, 1380, 1400, 1420, 1440, 1460, 1450, 1600, 1550, 1620, 1630,
    1500, 1620, 1600, 1540, 1480, 1540,
]

# ---------------- axes settings ----------------
XLIMS = [(0, 200), (0, 234), (0, 220), (-50, 200)]
YLIMS = [(-50, 40), (-30, 50), (-50, 50), (-60, 10)]
XTICKS = [[0, 50, 100, 150, 200], [0, 50, 100, 150, 200], [0, 50, 100, 150, 200], [-50, 0, 50, 100, 150, 200]]
YTICKS = [list(range(-50, 41, 10)), list(range(-30, 51, 10)), list(range(-50, 51, 10)), list(range(-60, 11, 10))]
CLIMS = [(10, 1990), (8, 1860), (5, 1960), (10, 1650)]
CTICKS = [[200, 400, 600, 800, 1000, 1200, 1400, 1600, 1800],
          [200, 400, 600, 800, 1000, 1200, 1400, 1600, 1800],
          [200, 400, 600, 800, 1000, 1200, 1400, 1600, 1800],
          [200, 400, 600, 800, 1000, 1200, 1400, 1600]]

DATA = [(P1_X, P1_Y, P1_T), (P2_X, P2_Y, P2_T), (P3_X, P3_Y, P3_T), (P4_X, P4_Y, P4_T)]

# layout in pixels (top, bottom) of each axes
W, H = 600, 1667
AX_TB = [(32, 345), (434, 754), (831, 1181), (1301, 1603)]
XLAB_Y = [376, 791, 1221, 1650]
XPAD = [0.5, 3, 1.5, 5]
AX_L, AX_W = 150, 308
CB_L, CB_W = 483, 30

fig = plt.figure(figsize=(W / 100, H / 100), dpi=100)
cmap = plt.get_cmap('jet')
TXT = '#262626'
SP = '#606060'

for i in range(4):
    top, bot = AX_TB[i]
    ax = fig.add_axes([AX_L / W, 1 - bot / H, AX_W / W, (bot - top) / H])
    x, y, t = (np.asarray(a, float) for a in DATA[i])
    assert len(x) == len(y) == len(t), (i, len(x), len(y), len(t))
    norm = mcolors.Normalize(*CLIMS[i])
    order = np.argsort(t, kind='stable')
    cols = cmap(norm(t))
    face = cols.copy()
    face[:, :3] = cols[:, :3] * 0.7 + 0.3
    ax.scatter(x[order], y[order], s=13, facecolors=face[order], edgecolors=cols[order],
               linewidths=0.6, clip_on=False, zorder=3)
    ax.set_xlim(*XLIMS[i])
    ax.set_ylim(*YLIMS[i])
    ax.set_xticks(XTICKS[i])
    ax.set_yticks(YTICKS[i])
    for s in ['top', 'right']:
        ax.spines[s].set_visible(False)
    for s in ['left', 'bottom']:
        ax.spines[s].set_color(SP)
        ax.spines[s].set_linewidth(1.0)
    ax.tick_params(direction='in', length=3.5, width=0.9, color=SP, labelsize=11,
                   labelcolor=TXT)
    ax.tick_params(axis='x', pad=XPAD[i])
    ax.tick_params(axis='y', pad=3)

    # colorbar
    cax = fig.add_axes([CB_L / W, 1 - bot / H, CB_W / W, (bot - top) / H])
    sm = ScalarMappable(norm=norm, cmap=cmap)
    cb = fig.colorbar(sm, cax=cax, ticks=CTICKS[i])
    cb.outline.set_edgecolor('#404040')
    cb.outline.set_linewidth(0.8)
    cax.tick_params(direction='in', length=3, width=0.8, color='#404040', labelsize=11,
                    labelcolor=TXT, pad=4)

    mid = (top + bot) / 2
    fig.text(350 / W, 1 - XLAB_Y[i] / H, XLABEL, ha='center', va='center', fontsize=18, color='#1a1a1a')
    fig.text(92 / W, 1 - (mid - 18) / H, YLABEL, ha='center', va='center', rotation=90,
             fontsize=18, color='#1a1a1a')
    fig.text(38 / W, 1 - (mid - 20) / H, MU_LABELS[i], ha='center', va='center', rotation=90,
             fontsize=19, color='#1a1a1a')
    fig.text(585 / W, 1 - mid / H, CLABEL, ha='center', va='center', rotation=90,
             fontsize=18, color='#1a1a1a')

fig.savefig('out.png', dpi=100, facecolor='white')
